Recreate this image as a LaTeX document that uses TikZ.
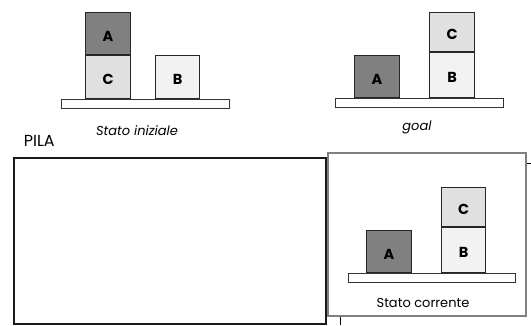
\documentclass[tikz,border=0pt]{standalone}
\usepackage{fontspec}
\setmainfont{Poppins}
\usetikzlibrary{positioning}

\begin{document}
\begin{tikzpicture}
[x=1pt, y=-1pt, line width=1pt,
block/.style={rectangle, draw=black!85, line width=1.1pt, inner sep=0pt, minimum width=45pt, text height=16pt, text depth=0pt, font=\fontsize{14.5}{15}\selectfont\bfseries},
blockA/.style={block, fill=black!50},
blockB/.style={block, fill=black!5},
blockC/.style={block, fill=black!12},
tavolo/.style={rectangle, draw=black!80, fill=white, line width=1.1pt, inner sep=0pt, minimum width=168pt, minimum height=9pt, anchor=north west},
caption/.style={anchor=base, font=\fontsize{13}{14}\selectfont\itshape},
frame/.style={rectangle, inner sep=0pt, anchor=north west}
]

\useasboundingbox (0,0) rectangle (531,325);

\def \tiniy {99}
\def \tgoaly {98}
\def \tcury {273}

% Stato iniziale
\node[tavolo] (tab1) at (61,\tiniy) {};
\node[blockC, minimum height=43pt, anchor=south west] (C1) at (85,\tiniy) {C};
\node[blockA, minimum height=42pt, above=0pt of C1] (A1) {A};
\node[blockB, minimum height=43pt, minimum width=44pt, anchor=south west] (B1) at (155,\tiniy) {B};
\node[caption] (lbl1) at (137,135.5) {Stato iniziale};

% Goal
\node[tavolo] (tab2) at (335,\tgoaly) {};
\node[blockA, minimum height=42pt, anchor=south west] (A2) at (354,\tgoaly) {A};
\node[blockB, minimum height=45pt, anchor=south west] (B2) at (429,\tgoaly) {B};
\node[blockC, minimum height=39pt, above=0pt of B2] (C2) {C};
\node[caption] (lbl2) at (417,130) {goal};

% Pila
\node[anchor=base west, font=\fontsize{16}{17}\selectfont] (pilalbl) at (20,146) {PILA};
\node[frame, draw=black!90, line width=2pt, minimum width=312pt, minimum height=166pt] (pila) at (13,157) {};

% Stato corrente
\node[frame, draw=black!50, line width=1.5pt, minimum width=198pt, minimum height=163pt] (corrente) at (327,152) {};
\node[tavolo, minimum width=167pt] (tab3) at (348,\tcury) {};
\node[blockA, minimum height=42pt, anchor=south west] (A3) at (366,\tcury) {A};
\node[blockB, minimum height=45pt, minimum width=44pt, anchor=south west] (B3) at (441,\tcury) {B};
\node[blockC, minimum height=39pt, minimum width=44pt, above=0pt of B3] (C3) {C};
\node[anchor=base, font=\fontsize{13}{14}\selectfont] (lbl3) at (423,307.5) {Stato corrente};

\coordinate (tickR) at (531,163);
\coordinate (tickB) at (340,325);
\draw (corrente.east |- tickR) -- (tickR);
\draw (tickB |- corrente.south) -- (tickB);
\end{tikzpicture}
\end{document}
